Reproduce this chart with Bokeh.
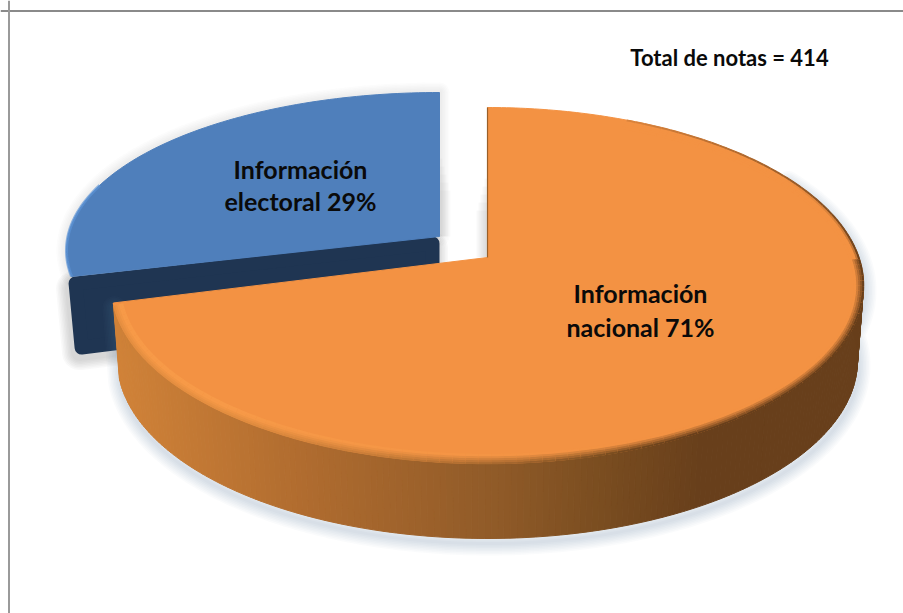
import numpy as np
from bokeh.plotting import figure
from bokeh.models import Span
from bokeh.embed import file_html
from bokeh.resources import INLINE
from bokeh.core.properties import value

categories = ["Información nacional", "Información electoral"]
shares = [71, 29]
label_lines = [["Información", "nacional 71%"], ["Información", "electoral 29%"]]
total_text = "Total de notas = 414"

FONT = "Lato"
TOP_O, TOP_B, SIDE_B = "#f39243", "#4f7fbb", "#1f3552"

def hex2rgb(h):
    return np.array([int(h[i:i+2], 16) for i in (1, 3, 5)], float)

def rgb2hex(c):
    return "#%02x%02x%02x" % tuple(int(round(v)) for v in c)

def mix(a, b, t):
    return rgb2hex(hex2rgb(a) * (1 - t) + hex2rgb(b) * t)

grad_x = [115, 300, 500, 600, 700, 860]
grad_c = ["#d08238", "#b06c2f", "#8f5a28", "#7a4d20", "#683f1b", "#683f1b"]

def side_colour(x):
    rgb = [np.interp(x, grad_x, [hex2rgb(c)[k] for c in grad_c]) for k in range(3)]
    return rgb2hex(rgb)

def rim(phi, cx, cy, rx, ry, apex_y):
    a = (cy - apex_y) / ry
    s, c = np.sin(phi), np.cos(phi)
    t = -a * c + np.sqrt(a * a * c * c - a * a + 1)
    return cx + rx * t * s, cy - ry * (a + t * c)

p = figure(width=903, height=613, x_range=(0, 903), y_range=(613, 0),
           output_backend="svg", toolbar_location=None, min_border=0,
           x_axis_location=None, y_axis_location=None, outline_line_color=None,
           background_fill_color="white", border_fill_color="white")
p.grid.visible = False

p.add_layout(Span(location=10.5, dimension="width", line_color="#8a8a8a", line_width=2))
p.add_layout(Span(location=8.5, dimension="height", line_color="#9a9a9a", line_width=2))

# slice boundaries from the shares
boundary = 2 * np.pi * shares[0] / sum(shares)

# geometry of the two slices
O = dict(cx=487, cy=285, rx=376, ry=178, apex_y=257)
B = dict(cx=439, cy=250, rx=373, ry=158, apex_y=236)
H_O, H_B = 75, 74

# ------ blue slice
phi_b = np.linspace(boundary, 2 * np.pi, 90)
bx, by = rim(phi_b, **B)
x0, y0 = bx[0], by[0]
ax, ay = B["cx"], B["apex_y"]
r = 7
side_x = [x0 + r - 3, x0 + r + 3, ax - r, ax - r]
side_y = [y0 + r, y0 + H_B - r + 4, ay + H_B - r, ay + r]

for k in range(1, 8):
    p.patch([v - 2 for v in side_x], [v + 5 for v in side_y], fill_alpha=0,
            line_color="#5a5a5a", line_alpha=0.035, line_width=2 * r + 3 * k, line_join="round")
for k in range(1, 7):
    p.patch(list(bx) + [ax], list(by) + [ay], fill_alpha=0,
            line_color="#777777", line_alpha=0.018, line_width=2 + 3 * k, line_join="round")
# vertical-edge shadow right of blue, left of orange
for k in range(1, 6):
    p.quad(left=ax, right=ax + 2 * k + 1, top=B["cy"] - 100 + 8 * k, bottom=ay,
           fill_color="#666666", fill_alpha=0.035, line_alpha=0)
    p.quad(left=O["cx"] - 2 * k - 1, right=O["cx"], top=O["cy"] - 115 + 8 * k, bottom=O["apex_y"],
           fill_color="#666666", fill_alpha=0.045, line_alpha=0)

p.patch(side_x, side_y, fill_color=SIDE_B, line_color=SIDE_B, line_width=2 * r, line_join="round")
p.patch(list(bx) + [ax], list(by) + [ay], fill_color=TOP_B, line_color=TOP_B, line_width=1)
p.line(bx[:30], by[:30], line_color="#5b93d6", line_width=3, line_alpha=0.7)

# ------ orange slice
phi_o = np.linspace(0, boundary, 300)
ox, oy = rim(phi_o, **O)
bot = dict(cx=O["cx"], cy=O["cy"] + H_O, rx=O["rx"] - 6, ry=O["ry"], apex_y=O["apex_y"] + H_O)
lx, ly = rim(phi_o, **bot)

vis = phi_o > np.radians(60)
sil_x = list(ox[vis]) + list(lx[vis][::-1])
sil_y = list(oy[vis]) + list(ly[vis][::-1])
for k in range(1, 9):
    p.patch([v + 1 for v in sil_x], [v + 5 for v in sil_y], fill_alpha=0,
            line_color="#6f8aa5", line_alpha=0.03, line_width=3 * k, line_join="round")

idx = np.where(vis)[0]
xs, ys, cs = [], [], []
for i, j in zip(idx[:-1], idx[1:]):
    xs.append([ox[i], ox[j], lx[j], lx[i]])
    ys.append([oy[i], oy[j], ly[j], ly[i]])
    cs.append(side_colour((ox[i] + ox[j]) / 2))
p.patches(xs, ys, fill_color=cs, line_color=cs, line_width=1)

p.patch(list(ox) + [O["cx"]], list(oy) + [O["apex_y"]], fill_color=TOP_O, line_color=TOP_O, line_width=1)

# bevelled rim of the top face
n = 5
seg_x, seg_y, seg_c = [], [], []
for ring in range(n):
    g = dict(O)
    g["rx"] = O["rx"] - 2 * ring - 0.5
    g["ry"] = O["ry"] - 2 * ring - 0.5
    rxs, rys = rim(phi_o, **g)
    for i in range(0, len(phi_o) - 2, 2):
        deg = np.degrees(phi_o[i])
        if deg < 25:
            continue
        edge = side_colour(rxs[i])
        t = ring / (n - 1)
        if deg < 90:
            t = min(1.0, t * 2.5 + (1 - min(1.0, (deg - 25) / 65)) * 0.8)
        dark = mix(edge, TOP_O, t)
        light = mix("#e48e40", "#f79a48", min(1.0, ring / (n - 2)))
        w = float(np.clip((deg - 160) / 60, 0, 1))
        seg_x.append(list(rxs[i:i + 3]))
        seg_y.append(list(rys[i:i + 3]))
        seg_c.append(mix(dark, light, w))
p.multi_line(seg_x, seg_y, line_color=seg_c, line_width=2.5)

p.line([O["cx"], O["cx"]], [oy[0], O["apex_y"]], line_color="#9a5f28", line_width=1.2)

# ------ labels
centres = [(640, O["apex_y"] + 35, 34), (300, B["apex_y"] - 68, 32)]
for lines, (tx, ty, dy) in zip(label_lines, centres):
    p.text([tx, tx], [ty, ty + dy], text=lines, text_align="center", text_baseline="middle",
           text_font=value(FONT), text_font_style="bold", text_font_size="25px", text_color="#0a0a0a")
p.text([729], [57], text=[total_text], text_align="center", text_baseline="middle",
       text_font=value(FONT), text_font_style="bold", text_font_size="22px", text_color="#0a0a0a")

open("out.html", "w").write(file_html(p, INLINE))
